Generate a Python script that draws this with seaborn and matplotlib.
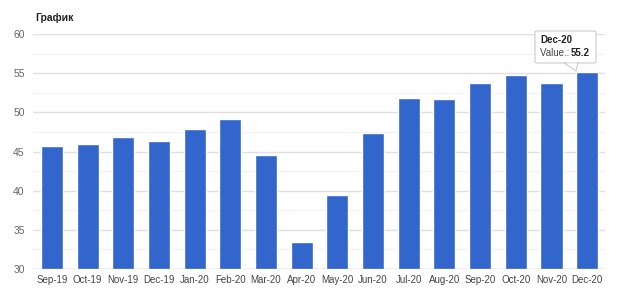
import matplotlib
matplotlib.use("Agg")
import matplotlib.pyplot as plt
import seaborn as sns
import pandas as pd
from matplotlib.patches import FancyBboxPatch, Polygon

months = ["Sep-19", "Oct-19", "Nov-19", "Dec-19", "Jan-20", "Feb-20", "Mar-20", "Apr-20",
          "May-20", "Jun-20", "Jul-20", "Aug-20", "Sep-20", "Oct-20", "Nov-20", "Dec-20"]
values = [45.7, 45.9, 46.9, 46.3, 47.9, 49.2, 44.5, 33.4,
          39.4, 47.4, 51.8, 51.7, 53.7, 54.8, 53.8, 55.2]
y_ticks = [30, 35, 40, 45, 50, 55, 60]
title = "График"
tip_label = "Dec-20"
tip_value = "55.2"

sns.set_theme(style="white")
plt.rcParams['font.family'] = ['Liberation Sans', 'DejaVu Sans']

df = pd.DataFrame({"month": months, "value": values})

fig = plt.figure(figsize=(6.2, 2.91), dpi=100)
ax = fig.add_axes([33/620, 22/291, 572/620, 235/291])

sns.barplot(data=df, x="month", y="value", color="#3366CC", saturation=1,
            width=0.62, ax=ax, zorder=3)

ax.set_ylim(30, 60)
ax.set_xlim(-0.53, 15.5)
ax.set_yticks(y_ticks)
ax.set_yticks([32.5, 37.5, 42.5, 47.5, 52.5, 57.5], minor=True)
ax.grid(axis="y", which="major", color="#e0e0e0", linewidth=1, zorder=0)
ax.grid(axis="y", which="minor", color="#f3f3f3", linewidth=1, zorder=0)
ax.grid(axis="x", visible=False)
for s in ax.spines.values():
    s.set_visible(False)
ax.axhline(30, color="#cccccc", linewidth=1, zorder=4)
ax.set_xlabel("")
ax.set_ylabel("")
ax.tick_params(axis="x", labelsize=7, colors="#444444", length=0, pad=4)
ax.tick_params(axis="y", labelsize=7.5, colors="#666666", length=0, pad=6, which="both")
ax.tick_params(axis="y", which="minor", labelleft=False)

fig.text(35/620, 1 - 18/291, title, fontsize=7.5, fontweight="bold", color="#222222",
         va="center", ha="left")

# tooltip
bx0, by0, bw, bh = 535/620, 1 - 63/291, 61/620, 32/291
box = FancyBboxPatch((bx0, by0), bw, bh, boxstyle="round,pad=0,rounding_size=0.004",
                     transform=fig.transFigure, facecolor="white", edgecolor="#cccccc",
                     linewidth=0.8, zorder=10)
fig.add_artist(box)
tri = Polygon([(564/620, by0 + 0.001), (578/620, by0 + 0.001), (576/620, 1 - 71/291)],
              closed=True, transform=fig.transFigure, facecolor="white",
              edgecolor="#cccccc", linewidth=0.8, zorder=10)
fig.add_artist(tri)
fig.add_artist(Polygon([(565/620, by0 + 0.002), (577/620, by0 + 0.002), (576/620, by0 + 0.006)],
                       closed=True, transform=fig.transFigure, facecolor="white",
                       edgecolor="none", zorder=11))
fig.text(540/620, 1 - 40/291, tip_label, fontsize=7, fontweight="bold", color="#222222",
         va="center", ha="left", zorder=12)
fig.text(540/620, 1 - 53/291, "Value.: ", fontsize=7, color="#444444",
         va="center", ha="left", zorder=12)
fig.text(571/620, 1 - 53/291, tip_value, fontsize=7, fontweight="bold", color="#222222",
         va="center", ha="left", zorder=12)

fig.savefig("out.png", dpi=100)
